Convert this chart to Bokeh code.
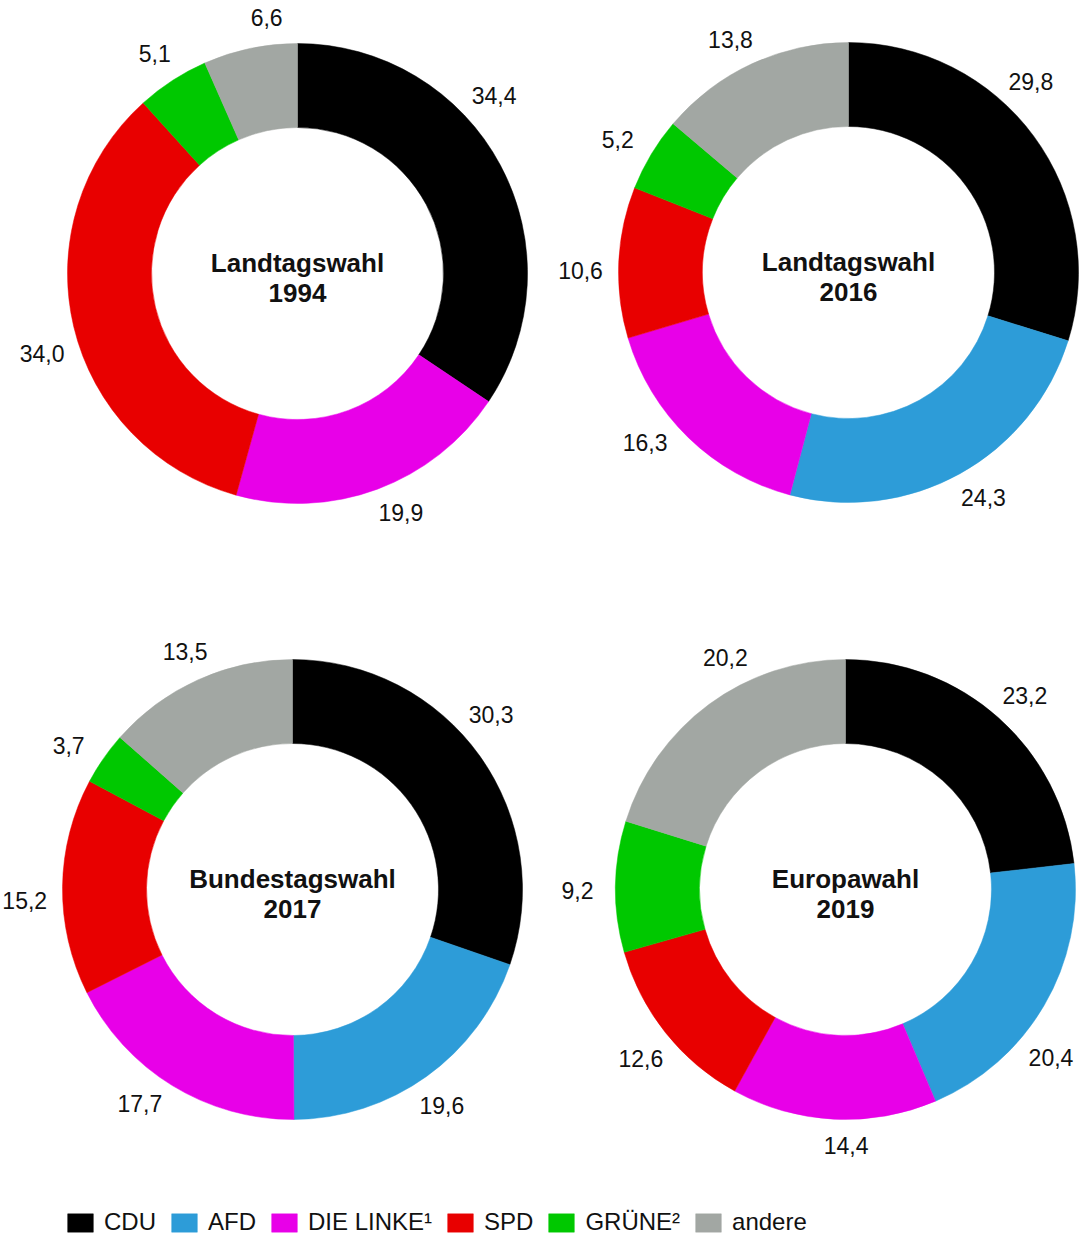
import math
from bokeh.plotting import figure
from bokeh.models import ColumnDataSource, Range1d, Legend, LegendItem
from bokeh.core.properties import value
from bokeh.embed import file_html
from bokeh.resources import INLINE

# ---------------- data ----------------
parties = ["CDU", "AFD", "DIE LINKE¹", "SPD", "GRÜNE²", "andere"]
colors = ["#000000", "#2d9cd8", "#e800e8", "#e80000", "#00c800", "#a2a7a3"]

election_names = ["Landtagswahl", "Landtagswahl", "Bundestagswahl", "Europawahl"]
election_years = ["1994", "2016", "2017", "2019"]

v1994 = [34.4, 0.0, 19.9, 34.0, 5.1, 6.6]
v2016 = [29.8, 24.3, 16.3, 10.6, 5.2, 13.8]
v2017 = [30.3, 19.6, 17.7, 15.2, 3.7, 13.5]
v2019 = [23.2, 20.4, 14.4, 12.6, 9.2, 20.2]
all_values = [v1994, v2016, v2017, v2019]

# ---------------- layout (picture pixels) ----------------
W, H = 1080, 1239
centers = [(297, 273), (848, 272), (292, 889), (845, 889)]
R_OUT, R_IN = 230, 146
# small angular nudges (degrees, clockwise) for label placement
label_nudge = [
    [-14, 0, -3, -4, 0, 5],
    [-10, -2, 6, -2, -1, -2],
    [-6, 1, 4, -3, -2, 0],
    [1, 9, -3, -1, -1, 9],
]

FONT = "Liberation Sans"

p = figure(width=W, height=H, output_backend="svg", toolbar_location=None,
           x_axis_location=None, y_axis_location=None,
           x_range=Range1d(0, W), y_range=Range1d(-H, 0),
           min_border=0, outline_line_color=None, background_fill_color="white")
p.grid.visible = False

renderers = []
for k, party in enumerate(parties):
    xs, ys, a0s, a1s = [], [], [], []
    for c, vals in enumerate(all_values):
        total = sum(vals)
        cum0 = sum(vals[:k]) / total
        cum1 = cum0 + vals[k] / total
        if vals[k] <= 0:
            continue
        cx, cy = centers[c]
        xs.append(cx)
        ys.append(-cy)
        a0s.append(math.pi / 2 - 2 * math.pi * cum0)
        a1s.append(math.pi / 2 - 2 * math.pi * cum1)
    src = ColumnDataSource(dict(x=xs, y=ys, a0=a0s, a1=a1s))
    r = p.annular_wedge(x="x", y="y", inner_radius=R_IN, outer_radius=R_OUT,
                        start_angle="a0", end_angle="a1", direction="clock",
                        fill_color=colors[k], line_color=colors[k], line_width=0.5,
                        source=src)
    renderers.append(r)

# value labels
lx, ly, lt = [], [], []
for c, vals in enumerate(all_values):
    total = sum(vals)
    cx, cy = centers[c]
    for k, v in enumerate(vals):
        if v <= 0:
            continue
        mid = (sum(vals[:k]) + v / 2) / total * 360 + label_nudge[c][k]
        th = math.radians(mid)
        rr = 256 + 12 * abs(math.sin(th))
        lx.append(cx + rr * math.sin(th))
        ly.append(-(cy - rr * math.cos(th)))
        lt.append(f"{v:.1f}".replace(".", ","))
p.text(x=lx, y=ly, text=lt, text_align="center", text_baseline="middle",
       text_font=value(FONT), text_font_size="23px", text_color="#111111")

# centre titles
tx = [c[0] for c in centers]
p.text(x=tx, y=[-(c[1] - 11) for c in centers], text=election_names,
       text_align="center", text_baseline="middle", text_font=value(FONT),
       text_font_style="bold", text_font_size="26px", text_color="#111111")
p.text(x=tx, y=[-(c[1] + 19) for c in centers], text=election_years,
       text_align="center", text_baseline="middle", text_font=value(FONT),
       text_font_style="bold", text_font_size="26px", text_color="#111111")

legend = Legend(items=[LegendItem(label=party, renderers=[r]) for party, r in zip(parties, renderers)],
                orientation="horizontal", location=(64, 3),
                glyph_width=32, glyph_height=23, label_standoff=8, spacing=12,
                padding=0, margin=0, border_line_color=None, background_fill_alpha=0,
                label_text_font=FONT, label_text_font_size="24px", label_text_color="#111111")
p.add_layout(legend)

open("out.html", "w").write(file_html(p, INLINE))
